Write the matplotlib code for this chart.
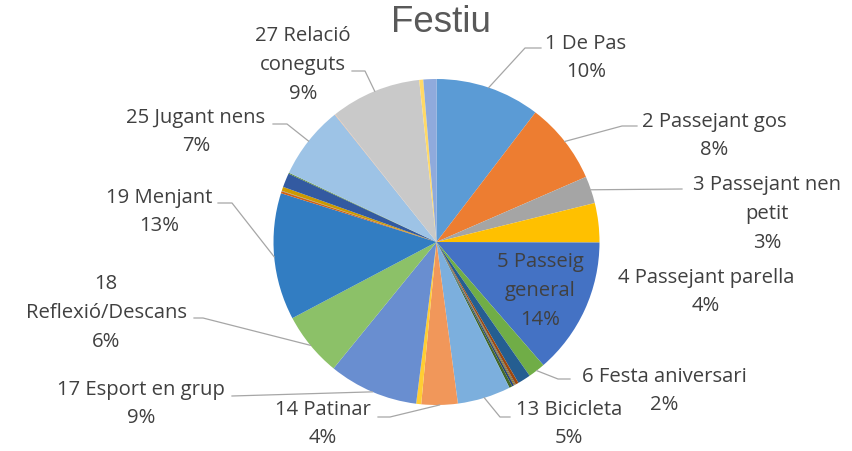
import numpy as np
import matplotlib
matplotlib.use("Agg")
import matplotlib.pyplot as plt

W, H = 852, 452

# slice data (% of total)
names = ["1 De Pas", "2 Passejant gos", "3 Passejant nen\npetit", "4 Passejant parella",
         "5 Passeig\ngeneral", "6 Festa aniversari", "7", "8", "9", "10", "11", "12",
         "13 Bicicleta", "14 Patinar", "15", "16", "17 Esport en grup",
         "18\nReflexió/Descans", "19 Menjant", "20", "21", "22", "23", "24",
         "25 Jugant nens", "26", "27 Relació\nconeguts", "28", "29"]
values = [10.4, 8.1, 2.7, 3.9, 13.6, 1.7, 1.3, 0.3, 0.1, 0.1, 0.2, 0.3,
          5.3, 3.6, 0.0, 0.5, 8.9, 6.4, 12.6, 0.2, 0.05, 0.4, 1.4, 0.1,
          7.3, 0.05, 9.0, 0.4, 1.3]
colors = ["#5B9BD5", "#ED7D31", "#A5A5A5", "#FFC000", "#4472C4", "#70AD47",
          "#255E91", "#9E480E", "#636363", "#997300", "#264478", "#43682B",
          "#7CAFDD", "#F1975A", "#B7B7B7", "#FFCD33", "#698ED0", "#8CC168",
          "#327DC2", "#D26012", "#848484", "#CC9A00", "#335AA1", "#5A8A39",
          "#9DC3E6", "#F4B183", "#C9C9C9", "#FFD966", "#8FAADC"]

# label layout in pixel coords (x, y from top): text centre, leader elbow/end points
label_pos = {0: (586, 58), 1: (714, 136), 2: (767, 214), 3: (706, 292), 4: (540, 291),
             5: (664, 391), 12: (569, 424), 13: (323, 424), 16: (141, 404),
             17: (106, 313), 18: (159, 212), 24: (196, 132), 26: (303, 65)}
leaders = {0: [(525, 49), (541, 49)], 1: [(622, 127), (637, 127)], 2: [(682, 190)],
           5: [(558, 380), (570, 380)], 12: [(500, 418), (510, 418)],
           13: [(390, 418), (378, 418)], 16: [(232, 397)],
           17: [(203, 319), (194, 319)], 18: [(232, 204), (218, 204)],
           24: [(287, 125), (273, 125)], 26: [(365, 72), (352, 72)]}

cx, cy, r = 436.5, 243, 163
line_h = 28.6


def px(x, y):
    return x, H - y


fig = plt.figure(figsize=(W / 100, H / 100), dpi=100)
ax = fig.add_axes([0, 0, 1, 1])
wedges, _ = ax.pie(values, colors=colors, startangle=90, counterclock=False,
                   center=px(cx, cy), radius=r, wedgeprops=dict(linewidth=0))
ax.set_xlim(0, W)
ax.set_ylim(0, H)
ax.axis("off")

total = sum(values)
for i, (tx, ty) in label_pos.items():
    pct = round(values[i] / total * 100)
    lines = names[i].split("\n") + [f"{pct}%"]
    y_top = ty - line_h * (len(lines) - 1) / 2
    for k, s in enumerate(lines):
        ax.text(*px(tx, y_top + k * line_h), s, ha="center", va="center",
                fontsize=14.6, family="Open Sans", color="#404040")
    if i in leaders:
        w = wedges[i]
        mid = np.deg2rad((w.theta1 + w.theta2) / 2)
        x0, y0 = cx + r * np.cos(mid), cy - r * np.sin(mid)
        pts = [(x0, y0)] + leaders[i]
        xs = [p[0] for p in pts]
        ys = [H - p[1] for p in pts]
        ax.plot(xs, ys, color="#A6A6A6", lw=0.9)

ax.text(*px(441, 22), "Festiu", ha="center", va="center", fontsize=26.5,
        family="Liberation Sans", color="#595959")

fig.savefig("out.png", dpi=100)
